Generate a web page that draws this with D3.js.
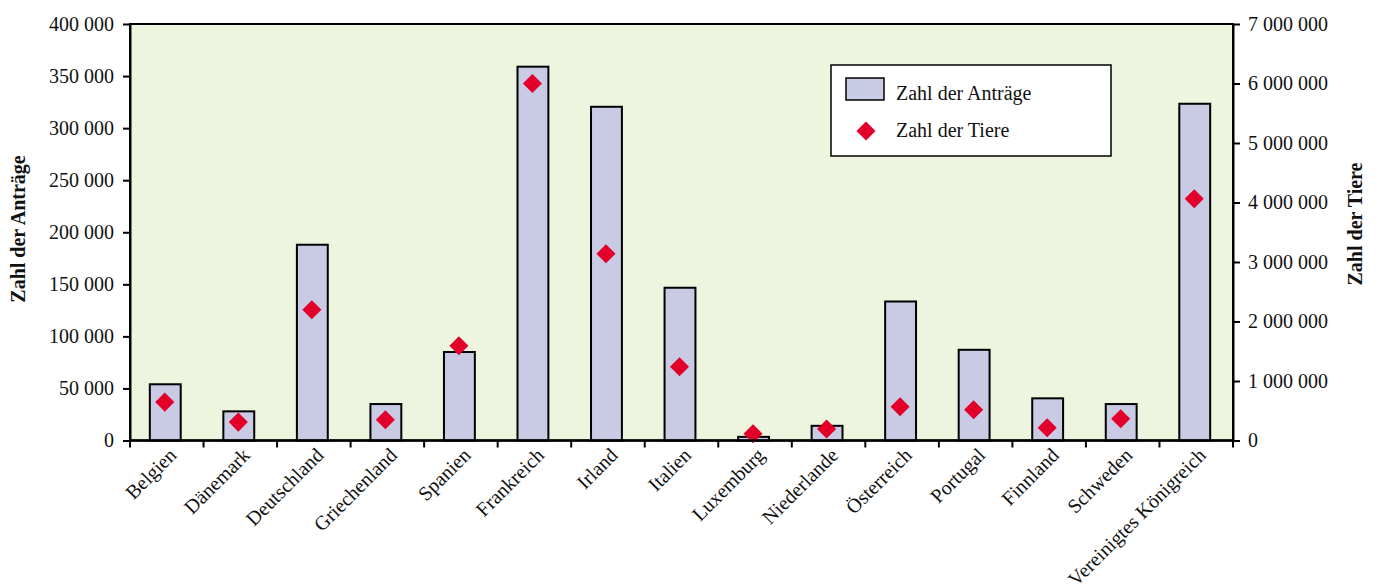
<!DOCTYPE html>
<html><head><meta charset="utf-8">
<script src="https://cdn.jsdelivr.net/npm/d3@7"></script>
<style>
body{margin:0;background:#fff;}
text{font-family:"Liberation Serif","DejaVu Serif",serif;fill:#111;}
</style></head>
<body>
<svg id="c" width="1378" height="587"></svg>
<script>
const categories = ["Belgien","Dänemark","Deutschland","Griechenland","Spanien","Frankreich","Irland","Italien","Luxemburg","Niederlande","Österreich","Portugal","Finnland","Schweden","Vereinigtes Königreich"];
const antraege = [54000,28000,188000,35000,85000,359000,320500,146700,3500,14100,133500,87100,40500,35000,323400];
const tiere = [645000,309000,2197000,348000,1592000,6000000,3138000,1239000,113000,192000,566000,516000,213000,365000,4063000];
const leftTicks = [0,50000,100000,150000,200000,250000,300000,350000,400000];
const rightTicks = [0,1000000,2000000,3000000,4000000,5000000,6000000,7000000];
const seriesNames = ["Zahl der Anträge","Zahl der Tiere"];
const axisTitles = ["Zahl der Anträge","Zahl der Tiere"];

const svg = d3.select("#c");
const L=130,R=1233,T=24,B=440.5;
const FS=20;
const fmt = v => d3.format(",")(v).replace(/,/g," ");

const x = d3.scaleBand().domain(categories).range([L,R]).paddingInner(0.58).paddingOuter(0.29);
const xb = d3.scaleBand().domain(categories).range([L,R]);
const yL = d3.scaleLinear().domain([0,400000]).range([B,T]);
const yR = d3.scaleLinear().domain([0,7000000]).range([B,T]);

svg.append("rect").attr("x",L).attr("y",T).attr("width",R-L).attr("height",B-T)
  .attr("fill","#EDF5DF").attr("stroke","#000").attr("stroke-width",2);

// bars
svg.append("g").selectAll("rect").data(categories).join("rect")
  .attr("x",(d)=>x(d)-1.5).attr("y",(d,i)=>yL(antraege[i])).attr("width",x.bandwidth())
  .attr("height",(d,i)=>B-yL(antraege[i]))
  .attr("fill","#C9CBE5").attr("stroke","#000").attr("stroke-width",2);

// diamonds
const dsz=13.5;
svg.append("g").selectAll("rect").data(categories).join("rect")
  .attr("x",-dsz/2).attr("y",-dsz/2).attr("width",dsz).attr("height",dsz)
  .attr("transform",(d,i)=>`translate(${xb(d)+xb.bandwidth()/2-2},${yR(tiere[i])}) rotate(45)`)
  .attr("fill","#E2002B");

// left axis
const gl = svg.append("g").attr("transform",`translate(${L},0)`)
  .call(d3.axisLeft(yL).tickValues(leftTicks).tickFormat(fmt).tickSize(7).tickSizeOuter(0).tickPadding(9));
gl.selectAll("text").attr("font-size",FS).style("font-family","Liberation Serif");
gl.selectAll("line,path").attr("stroke","#000").attr("stroke-width",2);

// right axis
const gr = svg.append("g").attr("transform",`translate(${R},0)`)
  .call(d3.axisRight(yR).tickValues(rightTicks).tickFormat(fmt).tickSize(7).tickSizeOuter(0).tickPadding(8));
gr.selectAll("text").attr("font-size",FS).style("font-family","Liberation Serif");
gr.selectAll("line,path").attr("stroke","#000").attr("stroke-width",2);

// bottom axis ticks at band boundaries
const gb = svg.append("g");
gb.selectAll("line").data(d3.range(categories.length+1)).join("line")
  .attr("x1",i=>L+i*xb.step()).attr("x2",i=>L+i*xb.step())
  .attr("y1",B).attr("y2",B+7).attr("stroke","#000").attr("stroke-width",2);
gb.append("line").attr("x1",L).attr("x2",R).attr("y1",B).attr("y2",B).attr("stroke","#000").attr("stroke-width",2.5);
gb.selectAll("text").data(categories).join("text")
  .attr("transform",d=>`translate(${xb(d)+xb.bandwidth()/2+1},${B+6}) rotate(-45)`)
  .attr("text-anchor","end").attr("dy","0.7em").attr("font-size",FS).text(d=>d);

// axis titles
svg.append("text").attr("transform",`translate(25,229) rotate(-90)`).attr("text-anchor","middle")
  .attr("font-size",FS).attr("font-weight","bold").text(axisTitles[0]);
svg.append("text").attr("transform",`translate(1362,224) rotate(-90)`).attr("text-anchor","middle")
  .attr("font-size",FS).attr("font-weight","bold").text(axisTitles[1]);

// legend
const lg = svg.append("g");
lg.append("rect").attr("x",831).attr("y",65).attr("width",280).attr("height",91)
  .attr("fill","#fff").attr("stroke","#000").attr("stroke-width",1.5);
lg.append("rect").attr("x",846).attr("y",78).attr("width",38).attr("height",22)
  .attr("fill","#C9CBE5").attr("stroke","#000").attr("stroke-width",1.5);
lg.append("text").attr("x",896).attr("y",100).attr("font-size",FS).text(seriesNames[0]);
lg.append("rect").attr("x",-dsz/2).attr("y",-dsz/2).attr("width",dsz).attr("height",dsz)
  .attr("transform","translate(866,131) rotate(45)").attr("fill","#E2002B");
lg.append("text").attr("x",896).attr("y",137).attr("font-size",FS).text(seriesNames[1]);
</script>
</body></html>
